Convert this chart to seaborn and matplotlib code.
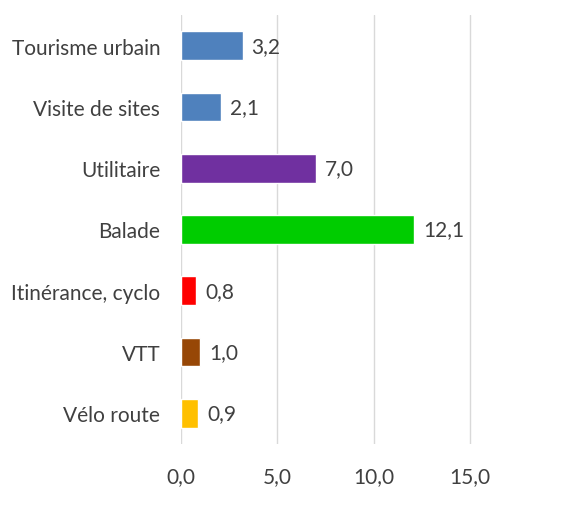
import matplotlib
matplotlib.use("Agg")
import matplotlib.pyplot as plt
import seaborn as sns
import pandas as pd

categories = ["Tourisme urbain", "Visite de sites", "Utilitaire", "Balade",
              "Itinérance, cyclo", "VTT", "Vélo route"]
values = [3.2, 2.1, 7.0, 12.1, 0.8, 1.0, 0.9]
colors = ["#4F81BD", "#4F81BD", "#7030A0", "#00CC00", "#FF0000", "#974706", "#FFC000"]
x_ticks = [0, 5, 10, 15]

sns.set_theme(style="white")
plt.rcParams["font.family"] = ["Lato", "DejaVu Sans"]
text_color = "#404040"

df = pd.DataFrame({"categorie": categories, "valeur": values})

fig = plt.figure(figsize=(5.76, 5.10), dpi=100)
ax = fig.add_axes([181 / 576, 65 / 510, 395 / 576, 429 / 510])

sns.barplot(data=df, x="valeur", y="categorie", hue="categorie",
            palette=colors, order=categories, hue_order=categories,
            width=0.47, legend=False, ax=ax, saturation=1)

for i, v in enumerate(values):
    ax.text(v + 0.45, i, f"{v:.1f}".replace(".", ","), va="center", ha="left",
            fontsize=15, color=text_color)

ax.set_xlim(0, 20.5)
ax.set_ylim(6.5, -0.5)
ax.set_xticks(x_ticks)
ax.set_xticklabels([f"{t:.1f}".replace(".", ",") for t in x_ticks])
ax.xaxis.grid(True, color="#D9D9D9", linewidth=1)
ax.set_axisbelow(True)
ax.set_xlabel("")
ax.set_ylabel("")
for s in ax.spines.values():
    s.set_visible(False)
ax.tick_params(axis="both", length=0, labelsize=15, colors=text_color)
ax.tick_params(axis="y", pad=15)
ax.tick_params(axis="x", pad=16)

fig.savefig("out.png", dpi=100)
